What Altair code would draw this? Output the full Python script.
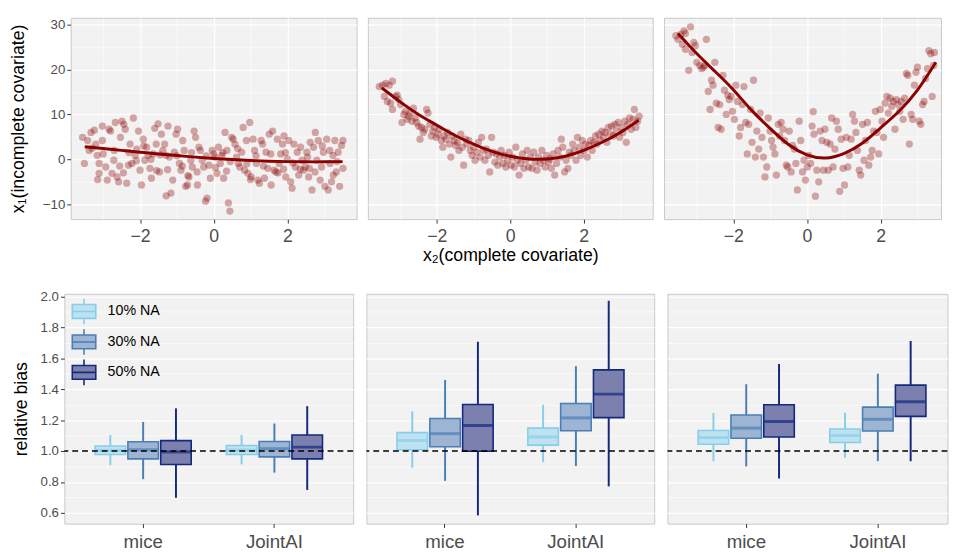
import altair as alt
import pandas as pd

FONT = "Liberation Sans"

# ---------------- top row: scatter of x1 (incomplete) vs x2 (complete) ----------------
panel1_points = [
    (-3.56, 4.9), (-3.51, -0.9), (-3.42, 4.2), (-3.33, 6.0), (-3.24, 6.5), (-3.38, 2.0), (-3.2, 3.4),
    (-3.16, 0.9), (-3.11, -0.9), (-3.11, -3.1), (-3.02, 4.2), (-3.02, 7.4), (-2.93, -1.7), (-2.89, -4.6),
    (-2.84, 6.7), (-2.8, 6.3), (-2.76, -3.1), (-2.71, -0.2), (-2.67, 8.2), (-2.62, -3.9), (-2.58, -5.0),
    (-2.53, 4.9), (-2.49, 8.5), (-2.44, 7.8), (-2.4, 6.7), (-2.36, -5.3), (-2.31, -1.3), (-2.27, 3.4),
    (-2.22, -0.9), (-2.18, 9.2), (-2.13, 0.9), (-2.09, 2.3), (-2.04, 6.3), (-2.0, -2.4), (-1.96, -5.7),
    (-1.91, 4.5), (-1.87, -0.2), (-1.82, 2.7), (-1.78, 0.9), (-1.73, -2.0), (-1.69, -4.2), (-1.64, 1.2),
    (-1.6, 6.9), (-1.56, 3.4), (-1.51, 7.9), (-1.47, -2.8), (-1.42, 5.6), (-1.38, 2.0), (-1.33, 3.4),
    (-1.29, 0.9), (-1.24, 7.4), (-1.2, 0.5), (-1.16, -7.5), (-1.29, -8.1), (-1.11, -4.6), (-1.07, 1.6),
    (-1.02, 5.6), (-0.98, 6.7), (-0.93, -0.9), (-0.89, -2.4), (-0.84, 4.2), (-0.8, 2.0), (-0.76, -6.0),
    (-0.71, -5.7), (-0.67, -3.9), (-0.62, -0.2), (-0.58, -1.7), (-0.53, 6.3), (-0.49, 4.9), (-0.44, -5.7),
    (-0.4, 2.7), (-0.36, 2.0), (-0.31, -0.2), (-0.27, -1.7), (-0.22, -9.3), (-0.18, -8.6), (-0.13, -1.3),
    (-0.09, -4.2), (-0.04, 2.0), (0.0, 1.2), (0.04, 0.5), (0.09, -3.1), (0.13, 2.7), (0.18, -0.9),
    (0.22, 0.9), (0.27, -4.2), (0.31, 6.0), (0.36, 2.0), (0.4, -9.7), (0.44, -11.5), (0.49, 4.9),
    (0.53, 4.5), (0.58, 3.4), (0.62, 0.5), (0.67, -0.9), (0.71, -1.7), (0.76, 1.6), (0.8, 7.1),
    (0.84, -2.4), (0.89, 4.2), (0.93, -3.1), (0.98, 8.2), (1.02, -3.9), (1.07, 4.5), (1.11, 2.0),
    (1.16, -0.9), (1.2, -4.6), (1.24, -5.3), (1.29, 4.2), (1.33, 3.4), (1.38, -4.2), (1.42, 1.6),
    (1.47, -2.0), (1.51, 5.6), (1.56, -5.7), (1.6, 6.3), (1.64, -2.4), (1.69, -2.8), (1.73, 4.5),
    (1.78, -0.9), (1.82, 1.2), (1.87, 3.4), (1.91, 5.2), (1.96, -3.9), (2.0, 0.1), (2.04, 4.2),
    (2.09, -5.0), (2.13, -6.4), (2.18, 3.4), (2.22, -1.7), (2.27, 1.6), (2.31, -3.5), (2.36, 2.7),
    (2.4, -0.2), (2.44, -2.4), (2.49, -1.7), (2.53, 1.6), (2.58, -3.9), (2.62, 3.8), (2.67, -6.8),
    (2.71, 2.7), (2.76, 6.0), (2.8, -0.2), (2.84, 4.2), (2.89, -4.6), (2.93, -1.7), (2.98, 1.6),
    (3.02, -6.0), (3.07, 4.5), (3.11, -6.8), (3.16, -0.9), (3.2, -5.0), (3.24, 0.9), (3.29, 4.2),
    (3.33, -2.8), (3.38, 1.6), (3.42, -6.0), (3.47, 3.1), (3.51, -2.0), (3.51, 4.2),
    (-3.3, 2.5), (-3.0, 1.2), (-2.7, 2.0), (-2.55, -1.5), (-2.3, 1.5), (-2.1, -0.3), (-1.9, 3.0),
    (-1.7, 0.0), (-1.45, 1.0), (-1.25, -2.3), (-1.0, 0.8), (-0.85, -1.5), (-0.6, 1.5), (-0.45, -2.8),
    (-0.2, 0.8), (0.05, -1.8), (0.25, 1.5), (0.45, -0.5), (0.65, 2.4), (0.9, -1.0), (1.15, 0.8),
    (1.35, -1.5), (1.55, 1.2), (1.75, -3.0), (1.95, 1.5), (2.15, -0.8), (2.35, -2.2), (2.55, 0.5),
    (2.75, -2.8), (2.95, 3.0), (3.15, 2.0), (3.35, -0.5), (-3.15, -4.5), (-2.45, -3.0), (-1.55, -2.5),
    (-0.7, -3.6), (0.35, -2.6), (1.0, -4.5), (1.9, -2.2), (2.6, -2.0), (3.25, -3.5),
]

panel2_points = [
    (-3.57, 16.2), (-3.48, 16.5), (-3.39, 16.9), (-3.3, 16.5), (-3.21, 17.4), (-3.43, 14.0), (-3.35, 12.9),
    (-3.26, 12.5), (-3.21, 11.1), (-3.12, 14.0), (-3.08, 14.3), (-3.04, 13.3), (-2.99, 12.2), (-2.95, 8.2),
    (-2.9, 10.0), (-2.86, 10.7), (-2.81, 8.9), (-2.77, 9.6), (-2.73, 10.3), (-2.68, 8.5), (-2.64, 11.4),
    (-2.59, 9.2), (-2.55, 8.2), (-2.5, 7.4), (-2.46, 4.5), (-2.42, 7.1), (-2.37, 6.0), (-2.33, 6.7),
    (-2.28, 11.1), (-2.24, 10.3), (-2.19, 7.8), (-2.15, 5.2), (-2.11, 6.3), (-2.06, 7.1), (-2.02, 4.9),
    (-1.97, 5.6), (-1.93, 6.7), (-1.88, 4.2), (-1.84, 2.7), (-1.8, 5.2), (-1.75, 4.5), (-1.71, 6.0),
    (-1.66, 3.4), (-1.62, 0.5), (-1.58, 5.2), (-1.53, 4.2), (-1.49, 3.1), (-1.44, 3.8), (-1.4, 2.0),
    (-1.35, 5.6), (-1.31, 2.7), (-1.27, -1.3), (-1.22, 4.5), (-1.18, 3.4), (-1.13, 4.2), (-1.09, 2.0),
    (-1.04, 0.9), (-1.0, 2.7), (-0.96, -0.2), (-0.91, 1.6), (-0.87, 3.8), (-0.82, 0.5), (-0.78, 4.9),
    (-0.73, 2.0), (-0.69, -0.2), (-0.65, 2.3), (-0.6, 0.9), (-0.56, -2.8), (-0.51, 4.9), (-0.47, 1.6),
    (-0.42, -0.6), (-0.38, 1.2), (-0.34, -1.3), (-0.29, 0.5), (-0.25, 2.0), (-0.2, -0.9), (-0.16, 0.9),
    (-0.12, -1.7), (-0.07, -0.2), (-0.03, 1.6), (0.02, -1.3), (0.06, 0.5), (0.11, -1.7), (0.15, 2.7),
    (0.19, -0.2), (0.24, -3.5), (0.28, -0.9), (0.33, 1.2), (0.37, -2.0), (0.42, -0.2), (0.46, 2.0),
    (0.5, -1.7), (0.55, 0.5), (0.59, -2.0), (0.64, 1.6), (0.68, -0.6), (0.73, -2.4), (0.77, 0.5),
    (0.81, -0.9), (0.86, 2.0), (0.9, -0.2), (0.95, -1.7), (0.99, 0.9), (1.04, -0.6), (1.08, 0.1),
    (1.12, -2.0), (1.17, 1.2), (1.21, -3.5), (1.26, -0.9), (1.3, 2.0), (1.35, 0.5), (1.39, 4.5),
    (1.43, 2.7), (1.48, -2.8), (1.52, -0.2), (1.57, -2.0), (1.61, 1.6), (1.65, 0.9), (1.7, 3.4),
    (1.74, 2.0), (1.79, -0.2), (1.83, 4.9), (1.88, 2.7), (1.92, 0.9), (1.96, 4.2), (2.01, 2.0),
    (2.05, 3.4), (2.1, 0.5), (2.14, 3.1), (2.19, 4.2), (2.23, 2.0), (2.27, 3.8), (2.32, 5.2),
    (2.36, 3.4), (2.41, 5.6), (2.45, 4.2), (2.5, 6.3), (2.54, 4.9), (2.58, 6.0), (2.63, 3.8),
    (2.67, 7.1), (2.72, 5.6), (2.76, 7.4), (2.81, 5.2), (2.85, 7.8), (2.89, 6.3), (2.94, 8.2),
    (2.98, 4.9), (3.03, 7.1), (3.07, 6.0), (3.12, 8.5), (3.16, 3.8), (3.2, 7.8), (3.25, 9.2),
    (3.29, 6.7), (3.34, 8.9), (3.38, 11.1), (3.42, 7.1), (3.47, 8.5), (3.51, 9.6),
]

panel3_points = [
    (-3.56, 27.5), (-3.5, 26.7), (-3.43, 27.8), (-3.34, 28.6), (-3.3, 28.0), (-3.16, 29.5), (-3.38, 25.6),
    (-3.3, 24.5), (-3.21, 19.8), (-3.12, 23.8), (-3.07, 26.0), (-3.03, 25.3), (-2.99, 21.6), (-2.91, 20.9),
    (-2.86, 20.2), (-2.81, 20.5), (-2.77, 20.9), (-2.73, 26.7), (-2.68, 15.1), (-2.63, 11.1), (-2.59, 17.6),
    (-2.55, 16.5), (-2.5, 21.6), (-2.46, 12.5), (-2.41, 7.1), (-2.37, 12.2), (-2.33, 6.7), (-2.28, 18.7),
    (-2.24, 15.4), (-2.19, 10.0), (-2.15, 14.3), (-2.11, 13.3), (-2.06, 14.0), (-2.02, 10.7), (-1.97, 8.9),
    (-1.93, 16.5), (-1.89, 12.9), (-1.84, 5.2), (-1.8, 7.1), (-1.75, 12.2), (-1.71, 16.2), (-1.66, 8.2),
    (-1.62, 1.2), (-1.58, 7.8), (-1.53, 11.1), (-1.49, 3.8), (-1.45, 17.6), (-1.4, 0.5), (-1.36, 6.3),
    (-1.31, 2.3), (-1.27, 10.3), (-1.22, 4.9), (-1.18, 0.5), (-1.14, -3.9), (-1.09, -1.7), (-1.05, 9.2),
    (-1.0, 6.3), (-0.96, 4.2), (-0.92, 2.7), (-0.87, 1.2), (-0.83, -3.5), (-0.78, 7.8), (-0.74, 5.2),
    (-0.7, 8.2), (-0.65, 6.7), (-0.61, 4.2), (-0.56, -1.3), (-0.52, -1.7), (-0.48, 6.3), (-0.43, -2.8),
    (-0.39, 3.1), (-0.34, 2.3), (-0.3, -0.9), (-0.26, -6.8), (-0.21, 8.5), (-0.17, 4.2), (-0.12, -2.8),
    (-0.08, -0.2), (-0.04, -4.6), (0.01, -1.7), (0.05, 0.9), (0.1, -0.9), (0.14, 7.4), (0.17, 10.6),
    (0.19, 5.6), (0.23, -8.2), (0.27, -2.4), (0.32, -5.0), (0.36, 6.3), (0.41, 4.2), (0.45, -2.4),
    (0.49, 6.7), (0.54, 3.8), (0.58, -2.4), (0.63, 3.4), (0.67, 9.2), (0.71, -1.7), (0.76, 2.3),
    (0.8, 8.5), (0.85, 6.7), (0.89, -7.1), (0.93, 4.5), (0.98, -2.0), (1.02, -5.7), (1.07, 4.9),
    (1.11, -1.7), (1.15, 0.9), (1.2, 4.5), (1.24, 10.0), (1.29, 8.5), (1.33, 6.0), (1.37, 2.0),
    (1.42, -2.4), (1.46, -3.5), (1.51, 7.8), (1.55, -0.2), (1.59, 4.2), (1.64, 8.2), (1.68, -1.3),
    (1.73, 0.5), (1.77, 2.0), (1.81, 6.3), (1.86, 10.7), (1.9, 6.0), (1.95, 1.2), (1.99, 11.1),
    (2.04, 8.5), (2.08, 4.9), (2.12, 12.5), (2.17, 14.0), (2.21, 10.3), (2.26, 13.6), (2.3, 11.8),
    (2.34, 12.9), (2.39, 6.7), (2.43, 13.3), (2.48, 12.2), (2.52, 10.7), (2.56, 12.9), (2.61, 8.9),
    (2.65, 13.6), (2.7, 19.1), (2.74, 18.7), (2.78, 3.4), (2.83, 10.0), (2.87, 8.9), (2.92, 16.5),
    (2.96, 19.4), (3.0, 20.5), (3.05, 8.5), (3.09, 7.8), (3.14, 12.2), (3.18, 12.9), (3.22, 18.0),
    (3.27, 20.2), (3.31, 24.2), (3.36, 23.5), (3.4, 14.0), (3.44, 20.9), (3.46, 23.8),
]

# fitted curves
curve_x = [-3.5, -3.0, -2.5, -2.0, -1.5, -1.0, -0.5, 0.0, 0.5, 1.0, 1.5, 2.0, 2.5, 3.0, 3.5]
curve1_y = [2.8, 2.4, 2.0, 1.6, 1.2, 0.85, 0.5, 0.2, -0.05, -0.25, -0.4, -0.5, -0.55, -0.55, -0.5]
curve2_y = [15.9, 12.8, 10.0, 7.6, 5.3, 3.4, 1.8, 0.7, 0.1, 0.1, 0.7, 2.0, 3.8, 6.0, 8.7]
curve3_y = [28.0, 23.6, 19.6, 15.5, 10.9, 6.9, 3.3, 1.0, 0.3, 1.3, 3.6, 7.0, 10.7, 15.4, 21.6]

# ---------------- bottom row: relative bias boxplots ----------------
methods = ["mice", "JointAI"]
na_levels = ["10% NA", "30% NA", "50% NA"]
reference_bias = [1.0]
# order: mice 10/30/50, JointAI 10/30/50
p1_lower = [0.909, 0.818, 0.697, 0.913, 0.860, 0.748]
p1_q1 = [0.977, 0.949, 0.913, 0.977, 0.962, 0.949]
p1_med = [1.004, 1.008, 0.994, 1.006, 1.015, 1.025]
p1_q3 = [1.032, 1.060, 1.067, 1.036, 1.061, 1.104]
p1_upper = [1.104, 1.188, 1.276, 1.104, 1.178, 1.290]

p2_lower = [0.892, 0.807, 0.583, 0.928, 0.903, 0.771]
p2_q1 = [1.008, 1.028, 0.998, 1.038, 1.131, 1.216]
p2_med = [1.068, 1.112, 1.165, 1.091, 1.214, 1.368]
p2_q3 = [1.119, 1.210, 1.301, 1.148, 1.307, 1.525]
p2_upper = [1.256, 1.460, 1.707, 1.299, 1.549, 1.972]

p3_lower = [0.934, 0.900, 0.822, 0.956, 0.934, 0.934]
p3_q1 = [1.044, 1.083, 1.091, 1.055, 1.129, 1.224]
p3_med = [1.087, 1.148, 1.191, 1.100, 1.205, 1.318]
p3_q3 = [1.133, 1.233, 1.299, 1.142, 1.284, 1.426]
p3_upper = [1.246, 1.432, 1.563, 1.248, 1.500, 1.712]

box_stroke = ["#87CEEB", "#4A7EB5", "#14287F"]
box_fill = ["#BEE2F0", "#9DB4D2", "#7B80AE"]

TICK_COL = "#333333"
LAB_COL = "#4D4D4D"


def cond(test, a, b):
    return {"condition": {"test": test, "value": a}, "value": b}


def scatter_panel(points, curve_y, width, xdom, first, xtitle):
    pts = pd.DataFrame(points, columns=["x", "y"])
    crv = pd.DataFrame({"x": curve_x, "y": curve_y})
    major_x = "datum.value % 2 == 0"
    major_y = "datum.value % 10 == 0"
    xs = alt.Scale(domain=xdom, nice=False, zero=False)
    ys = alt.Scale(domain=[-13.3, 31.5], nice=False, zero=False)
    xax = alt.Axis(values=[-3, -2, -1, 0, 1, 2, 3], labelExpr=f"{major_x} ? datum.label : ''",
                   tickOpacity=cond(major_x, 1, 0), gridWidth=cond(major_x, 1.2, 0.6),
                   labelFontSize=18, labelColor=LAB_COL, labelPadding=5, tickSize=4,
                   tickColor=TICK_COL, labelOverlap=False, labelFlush=False, domain=False,
                   title=xtitle, titleFontSize=18, titleFontWeight="normal", titleColor="black",
                   titlePadding=1)
    if first:
        yax = alt.Axis(values=[-10, -5, 0, 5, 10, 15, 20, 25, 30],
                       labelExpr=f"{major_y} ? datum.label : ''",
                       tickOpacity=cond(major_y, 1, 0), gridWidth=cond(major_y, 1.2, 0.6),
                       labelFontSize=13.5, labelColor=LAB_COL, labelPadding=2, tickSize=4,
                       tickColor=TICK_COL, labelOverlap=False, domain=False,
                       minExtent=36, maxExtent=36,
                       title="x₁(incomplete covariate)", titleFontSize=18,
                       titleFontWeight="normal", titleColor="black", titlePadding=8)
    else:
        yax = alt.Axis(values=[-10, -5, 0, 5, 10, 15, 20, 25, 30], labels=False, ticks=False,
                       domain=False, title=None, minExtent=0, maxExtent=0,
                       gridWidth=cond(major_y, 1.2, 0.6))
    pt_layer = alt.Chart(pts).mark_circle(size=55, color="#8B0000", opacity=0.33).encode(
        x=alt.X("x:Q", scale=xs, axis=xax),
        y=alt.Y("y:Q", scale=ys, axis=yax),
    )
    line_layer = alt.Chart(crv).mark_line(color="#8B0000", strokeWidth=3, interpolate="natural").encode(
        x=alt.X("x:Q", scale=xs, axis=xax),
        y=alt.Y("y:Q", scale=ys, axis=yax),
    )
    return alt.layer(pt_layer, line_layer).properties(width=width, height=205)


def box_panel(lower, q1, med, q3, upper, width, pad_outer, band_align, first):
    df = pd.DataFrame({
        "method": [m for m in methods for _ in na_levels],
        "na": na_levels * 2,
        "lower": lower, "q1": q1, "median": med, "q3": q3, "upper": upper,
    })
    ref = pd.DataFrame({"ref": reference_bias})
    major = "round(datum.value * 10) % 2 == 0"
    ys = alt.Scale(domain=[0.53, 2.017], nice=False, zero=False)
    yvals = [0.6, 0.7, 0.8, 0.9, 1.0, 1.1, 1.2, 1.3, 1.4, 1.5, 1.6, 1.7, 1.8, 1.9, 2.0]
    if first:
        yax = alt.Axis(values=yvals, format=".1f", labelExpr=f"{major} ? datum.label : ''",
                       tickOpacity=cond(major, 1, 0), gridWidth=cond(major, 1.2, 0.6),
                       labelFontSize=13.5, labelColor=LAB_COL, labelPadding=2, tickSize=4,
                       tickColor=TICK_COL, labelOverlap=False, domain=False,
                       minExtent=27, maxExtent=27,
                       title="relative bias", titleFontSize=18, titleFontWeight="normal",
                       titleColor="black", titlePadding=8)
    else:
        yax = alt.Axis(values=yvals, labels=False, ticks=False, domain=False, title=None,
                       minExtent=0, maxExtent=0, gridWidth=cond(major, 1.2, 0.6))
    xax = alt.Axis(bandPosition=0.5, labelFontSize=19, labelColor=LAB_COL, labelPadding=5,
                   tickSize=4, tickColor=TICK_COL, domain=False, title=None, gridWidth=1.2,
                   labelAngle=0)
    x = alt.X("method:N", sort=methods,
              scale=alt.Scale(paddingInner=0.25, paddingOuter=pad_outer, align=band_align),
              axis=xax)
    xo = alt.XOffset("na:N", sort=na_levels,
                     scale=alt.Scale(paddingInner=0.07, paddingOuter=0.035))
    sym = "M-0.92,-0.54H0.92V0.54H-0.92Z M-0.92,0H0.92 M0,-0.54V-1 M0,0.54V1"
    if first:
        leg = alt.Legend(title=None, orient="none", legendX=6, legendY=4, symbolType=sym,
                         symbolSize=676, symbolStrokeWidth=1.6, labelFontSize=14.5,
                         labelColor="black", labelOffset=10, rowPadding=-5, padding=0)
    else:
        leg = None
    sscale = alt.Scale(domain=na_levels, range=box_stroke)
    fscale = alt.Scale(domain=na_levels, range=box_fill)
    base = alt.Chart(df)
    whisk = base.mark_rule(strokeWidth=2).encode(
        x=x, xOffset=xo, y=alt.Y("lower:Q", scale=ys, axis=yax), y2="upper:Q",
        stroke=alt.Stroke("na:N", scale=sscale, legend=leg),
    )
    box = base.mark_bar(strokeWidth=1.6).encode(
        x=x, xOffset=xo, y=alt.Y("q1:Q", scale=ys, axis=yax), y2="q3:Q",
        fill=alt.Fill("na:N", scale=fscale, legend=leg),
        stroke=alt.Stroke("na:N", scale=sscale, legend=leg),
    )
    mid = base.mark_tick(orient="horizontal", size=30, thickness=3).encode(
        x=x, xOffset=xo, y=alt.Y("median:Q", scale=ys, axis=yax),
        color=alt.Color("na:N", scale=sscale, legend=None),
    )
    dash = alt.Chart(ref).mark_rule(color="black", strokeWidth=1.4, strokeDash=[6, 4]).encode(
        y=alt.Y("ref:Q", scale=ys, axis=yax),
    )
    return alt.layer(whisk, box, mid, dash).properties(width=width, height=234)


top = alt.hconcat(
    scatter_panel(panel1_points, curve1_y, 291, [-3.88, 3.88], True, None),
    scatter_panel(panel2_points, curve2_y, 290, [-3.88, 3.88], False, "x₂(complete covariate)"),
    scatter_panel(panel3_points, curve3_y, 282, [-3.88, 3.64], False, None),
    spacing=9.5,
)

bottom = alt.hconcat(
    box_panel(p1_lower, p1_q1, p1_med, p1_q3, p1_upper, 294, 0.225, 0.5, True),
    box_panel(p2_lower, p2_q1, p2_med, p2_q3, p2_upper, 293, 0.225, 0.5, False),
    box_panel(p3_lower, p3_q1, p3_med, p3_q3, p3_upper, 285, 0.1884, 0.595, False),
    spacing=9.5,
).resolve_scale(fill="independent", stroke="independent", color="independent")

chart = alt.vconcat(top, bottom, center=True, spacing=24).properties(
    padding={"left": 1, "top": 4, "right": 0, "bottom": 0}
).configure(font=FONT).configure_view(
    fill="#F2F2F2", stroke="#C8C8C8", strokeWidth=1
).configure_axis(gridColor="white", gridOpacity=1)

chart.save("out.html", embed_options={"renderer": "svg", "actions": False})
